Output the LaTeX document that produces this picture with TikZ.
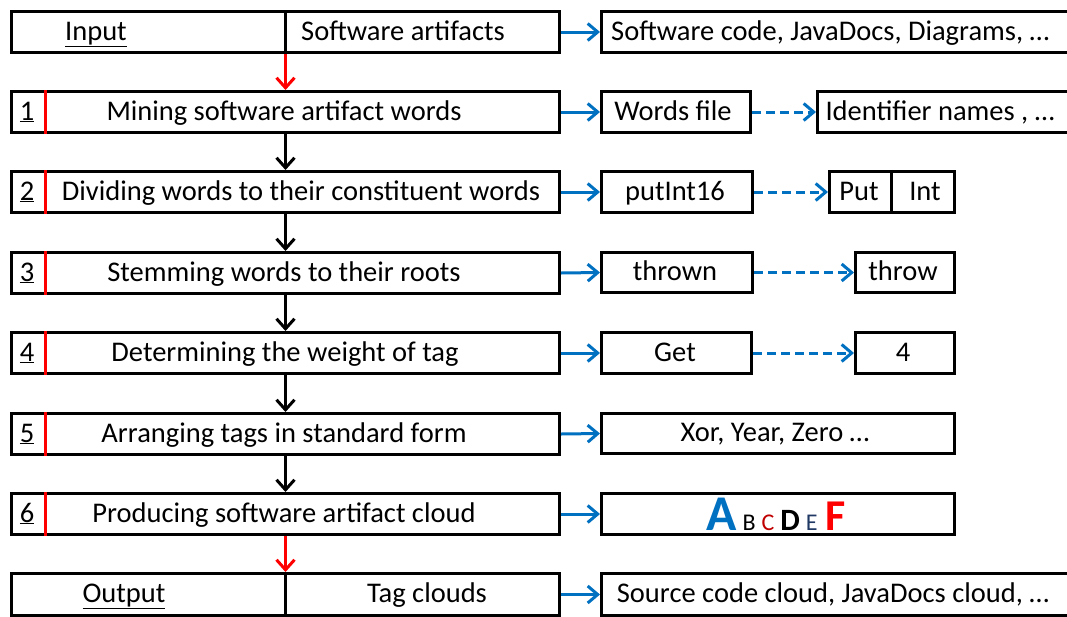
\documentclass[tikz,border=0pt]{standalone}
\usepackage{fontspec}
\setmainfont{Carlito}
\usetikzlibrary{arrows.meta}
\definecolor{ablue}{HTML}{0070C0}
\definecolor{cred}{HTML}{C00000}
\definecolor{edark}{HTML}{1F3864}
\newcommand\fsz{\fontsize{28.5}{33}\selectfont}
\begin{document}
\begin{tikzpicture}[x=1pt,y=-1pt,
  bx/.style={draw, line width=3pt, inner sep=0pt, anchor=north west, minimum height=41pt, font=\fsz},
  tx/.style={anchor=base, inner sep=0pt, font=\fsz},
  reddiv/.style={draw=red, line width=3pt},
  varr/.style={draw=black, line width=3pt, -{Straight Barb[length=10pt,width=18pt]}},
  rarr/.style={draw=red, line width=3pt, -{Straight Barb[length=10pt,width=18pt]}},
  barr/.style={draw=ablue, line width=3pt, -{Straight Barb[length=10pt,width=17pt]}},
  darr/.style={barr, dash pattern=on 9pt off 5pt}]
\useasboundingbox (0,0) rectangle (1067,616);
\clip (0,0) rectangle (1067,616);
% left column
\node[bx, minimum width=548pt] (in) at (10,10) {};
\node[bx, minimum width=548pt] (s1) at (10,90) {};
\node[bx, minimum width=548pt] (s2) at (10,170) {};
\node[bx, minimum width=548pt] (s3) at (10,251) {};
\node[bx, minimum width=548pt] (s4) at (10,331) {};
\node[bx, minimum width=548pt] (s5) at (10,412) {};
\node[bx, minimum width=548pt] (s6) at (10,492) {};
\node[bx, minimum width=548pt, minimum height=42pt] (out) at (10,572) {};
\draw[line width=3pt] (in.north) -- (in.south);
\draw[line width=3pt] (out.north) -- (out.south);
\node[tx] (tin) at (96,40) {\underline{Input}};
\node[tx] (tsa) at (403,40) {Software artifacts};
\node[tx] (tout) at (124,602) {\underline{Output}};
\node[tx] (ttc) at (427,602) {Tag clouds};
\foreach \s/\n/\t/\c in {s1/1/Mining software artifact words/284,
  s2/2/Dividing words to their constituent words/301,
  s3/3/Stemming words to their roots/284,
  s4/4/Determining the weight of tag/285,
  s5/5/Arranging tags in standard form/284,
  s6/6/Producing software artifact cloud/284}{
  \draw[reddiv] ([xshift=35pt]\s.north west) -- ([xshift=35pt]\s.south west);
  \node[tx] (n\s) at ([xshift=17pt,yshift=-30pt]\s.north west) {\underline{\n}};
  \node[tx] (t\s) at ([yshift=-30pt]\s.north west -| \c,0) {\t};
}
% vertical arrows
\draw[rarr] (in.south) -- (s1.north);
\draw[varr] (s1.south) -- (s2.north);
\draw[varr] (s2.south) -- (s3.north);
\draw[varr] (s3.south) -- (s4.north);
\draw[varr] (s4.south) -- (s5.north);
\draw[varr] (s5.south) -- (s6.north);
\draw[rarr] (s6.south) -- (out.north);
% right column
\node[bx, minimum width=480pt] (r0) at (600,10) {};
\node[tx, anchor=base west] (tr0) at (611,40) {Software code, JavaDocs, Diagrams, …};
\node[bx, minimum width=149pt] (w1) at (600,90) {};
\node[tx] (tw1) at (673,120) {Words file};
\node[bx, minimum width=260pt] (id1) at (816,90) {};
\node[tx] (tid1) at (940,120) {Identifier names , …};
\node[bx, minimum width=151pt] (w2) at (600,170) {};
\node[tx] (tw2) at (675,200) {putInt16};
\node[bx, minimum width=125pt] (pi) at (828,170) {};
\draw[line width=3pt] (891,170) -- (891,211);
\node[tx] (tput) at (859,200) {Put};
\node[tx] (tint) at (925,200) {Int};
\node[bx, minimum width=151pt, minimum height=40pt] (w3) at (600,251) {};
\node[tx] (tw3) at (675,280) {thrown};
\node[bx, minimum width=99pt, minimum height=40pt] (t3) at (854,251) {};
\node[tx] (tt3) at (903,280) {throw};
\node[bx, minimum width=150pt] (w4) at (600,331) {};
\node[tx] (tw4) at (675,361) {Get};
\node[bx, minimum width=99pt] (t4) at (854,331) {};
\node[tx] (tt4) at (903,361) {4};
\node[bx, minimum width=353pt, minimum height=40pt] (w5) at (600,412) {};
\node[tx] (tw5) at (775,441) {Xor, Year, Zero …};
\node[bx, minimum width=353pt] (w6) at (600,492) {};
\node[tx] (cloud) at (776,530) {{\fontsize{50}{50}\selectfont\bfseries\color{ablue}A}\hspace{6pt}{\fontsize{24}{24}\selectfont B}\hspace{6pt}{\fontsize{24}{24}\selectfont\color{cred}C}\hspace{6pt}{\fontsize{31}{31}\selectfont\bfseries D}\hspace{6pt}{\fontsize{24}{24}\selectfont\color{edark}E}\hspace{8pt}{\fontsize{44}{44}\selectfont\bfseries\color{red}F}};
\node[bx, minimum width=480pt, minimum height=42pt] (w7) at (600,572) {};
\node[tx] (tw7) at (833,602) {Source code cloud, JavaDocs cloud, …};
% horizontal arrows
\draw[barr] (in.east) -- (r0.west);
\draw[barr] (s1.east) -- (w1.west);
\draw[barr] (s2.east) -- (w2.west);
\draw[barr] (s3.east) -- (w3.west);
\draw[barr] (s4.east) -- (w4.west);
\draw[barr] (s5.east) -- (w5.west);
\draw[barr] (s6.east) -- (w6.west);
\draw[barr] (out.east) -- (w7.west);
\draw[darr] (w1.east) -- (id1.west);
\draw[darr] (w2.east) -- (pi.west);
\draw[darr] (w3.east) -- (t3.west);
\draw[darr] (w4.east) -- (t4.west);
\end{tikzpicture}
\end{document}
